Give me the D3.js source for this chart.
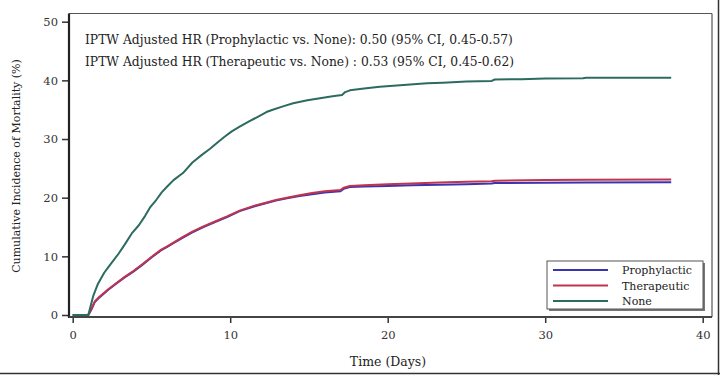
<!DOCTYPE html>
<html><head><meta charset="utf-8">
<script src="https://cdn.jsdelivr.net/npm/d3@7"></script>
<style>body{margin:0;background:#fff;} svg{display:block;}</style>
</head><body>
<script>
const xTicks = [0, 10, 20, 30, 40];
const yTicks = [0, 10, 20, 30, 40, 50];
const seriesNames = ["Prophylactic", "Therapeutic", "None"];
const seriesColors = ["#3b34b2", "#c0344c", "#2c6b5f"];
const annotations = [
  "IPTW Adjusted HR (Prophylactic vs. None): 0.50 (95% CI, 0.45-0.57)",
  "IPTW Adjusted HR (Therapeutic vs. None) : 0.53 (95% CI, 0.45-0.62)"
];
// [day, cumulative incidence %]
const noneData = [[0,0],[0.99,0],[1.3,3.2],[1.6,5.3],[2.0,7.2],[2.3,8.3],[2.9,10.4],[3.3,12.0],[3.75,13.9],[4.2,15.3],[4.6,16.9],[4.9,18.3],[5.3,19.6],[5.65,20.9],[6.0,21.9],[6.4,23.0],[7.0,24.2],[7.6,26.0],[8.2,27.3],[8.7,28.3],[9.1,29.2],[9.6,30.3],[10.1,31.3],[10.6,32.1],[11.2,33.0],[11.9,34.0],[12.3,34.6],[12.7,35.0],[13.4,35.6],[14.0,36.1],[14.9,36.6],[15.8,37.0],[16.5,37.3],[17.1,37.5],[17.3,38.0],[17.6,38.3],[18.5,38.6],[19.5,38.9],[21,39.2],[22.5,39.5],[23.5,39.6],[25,39.8],[26.6,39.9],[26.8,40.15],[28.5,40.2],[30,40.3],[32.4,40.35],[32.6,40.45],[38,40.45]];
const prophData = [[0,0],[0.99,0],[1.2,1.0],[1.4,2.2],[1.7,3.0],[2.26,4.3],[2.8,5.4],[3.3,6.4],[3.85,7.4],[4.4,8.5],[5.0,9.8],[5.6,11.0],[6.0,11.6],[6.5,12.4],[7.0,13.2],[7.6,14.1],[8.3,15.0],[9.0,15.8],[9.8,16.7],[10.6,17.7],[11.5,18.5],[12.2,19.0],[12.9,19.5],[13.6,19.9],[14.4,20.3],[15.2,20.6],[16.0,20.9],[17.0,21.1],[17.2,21.5],[17.6,21.8],[18.5,21.9],[20,22.0],[21.5,22.1],[23.3,22.2],[25,22.3],[26.6,22.4],[26.8,22.5],[30,22.55],[32.6,22.6],[38,22.65]];
const therData = [[0,0],[0.99,0],[1.2,1.1],[1.4,2.3],[1.7,3.1],[2.26,4.4],[2.8,5.5],[3.3,6.5],[3.85,7.5],[4.4,8.6],[5.0,9.9],[5.6,11.1],[6.0,11.7],[6.5,12.5],[7.0,13.3],[7.6,14.2],[8.3,15.1],[9.0,15.9],[9.8,16.8],[10.6,17.8],[11.5,18.6],[12.2,19.1],[12.9,19.6],[13.6,20.0],[14.4,20.4],[15.2,20.8],[16.0,21.1],[17.0,21.3],[17.2,21.7],[17.6,22.0],[18.5,22.1],[20,22.3],[21.5,22.4],[23.3,22.6],[25,22.7],[26.6,22.8],[26.8,22.9],[30,23.0],[32.6,23.05],[38,23.1]];
const seriesData = [prophData, therData, noneData];

const W = 720, H = 375;
const svg = d3.select("body").append("svg").attr("width", W).attr("height", H);
const x = d3.scaleLinear().domain([0, 40]).range([72.7, 702.7]);
const y = d3.scaleLinear().domain([0, 50]).range([315, 21.7]);
const FL = 69, FR = 712, FT = 13.5, FB = 317;
const font = "DejaVu Serif";

// frame top/right
svg.append("line").attr("x1", FL).attr("x2", FR).attr("y1", FT).attr("y2", FT).attr("stroke", "#555").attr("stroke-width", 1.2);
svg.append("line").attr("x1", FR).attr("x2", FR).attr("y1", FT).attr("y2", FB).attr("stroke", "#555").attr("stroke-width", 1.2);
// image border right/bottom
svg.append("line").attr("x1", 718.5).attr("x2", 718.5).attr("y1", 0).attr("y2", H).attr("stroke", "#333").attr("stroke-width", 1.5);
svg.append("line").attr("x1", 0).attr("x2", W).attr("y1", 373.5).attr("y2", 373.5).attr("stroke", "#333").attr("stroke-width", 1.5);

// axes
const yAxis = d3.axisLeft(y).tickValues(yTicks).tickSize(7).tickPadding(4).tickSizeOuter(0);
const gy = svg.append("g").attr("transform", `translate(${FL},0)`).call(yAxis);
gy.select(".domain").remove();
gy.append("line").attr("x1", 0).attr("x2", 0).attr("y1", FT).attr("y2", FB + 1).attr("stroke", "#222").attr("stroke-width", 2.2);
gy.selectAll(".tick line").attr("stroke", "#333").attr("stroke-width", 1.5);
gy.selectAll(".tick text").attr("font-family", font).attr("font-size", 11.5).attr("fill", "#333");

const xAxis = d3.axisBottom(x).tickValues(xTicks).tickSize(6).tickPadding(8).tickSizeOuter(0);
const gx = svg.append("g").attr("transform", `translate(0,${FB})`).call(xAxis);
gx.select(".domain").remove();
gx.append("line").attr("x1", FL).attr("x2", FR).attr("y1", 0).attr("y2", 0).attr("stroke", "#444").attr("stroke-width", 2.2);
gx.selectAll(".tick line").attr("stroke", "#333").attr("stroke-width", 1.5);
gx.selectAll(".tick text").attr("font-family", font).attr("font-size", 11.5).attr("fill", "#333");

// axis titles
svg.append("text").attr("x", 388).attr("y", 366).attr("text-anchor", "middle")
  .attr("font-family", font).attr("font-size", 12.5).attr("fill", "#222").text("Time (Days)");
svg.append("text").attr("transform", "translate(20,166) rotate(-90)").attr("text-anchor", "middle")
  .attr("font-family", font).attr("font-size", 11).attr("fill", "#222").text("Cumulative Incidence of Mortality (%)");

// annotations
annotations.forEach((t, i) => {
  svg.append("text").attr("x", 85).attr("y", 44 + i * 22).attr("font-family", font)
    .attr("font-size", 12.3).attr("fill", "#222").text(t);
});

// curves
const line = d3.line().x(d => x(d[0])).y(d => y(d[1])).curve(d3.curveLinear);
seriesData.forEach((data, i) => {
  svg.append("path").datum(data).attr("d", line).attr("fill", "none")
    .attr("stroke", seriesColors[i]).attr("stroke-width", 2).attr("stroke-linejoin", "round");
});

// legend
const lg = svg.append("g");
lg.append("rect").attr("x", 549).attr("y", 263).attr("width", 156).attr("height", 48).attr("fill", "#777");
lg.append("rect").attr("x", 547).attr("y", 261).attr("width", 156).attr("height", 48).attr("fill", "#fff").attr("stroke", "#555").attr("stroke-width", 1);
seriesNames.forEach((n, i) => {
  const yy = 270 + i * 15.5;
  lg.append("line").attr("x1", 553).attr("x2", 608).attr("y1", yy).attr("y2", yy)
    .attr("stroke", seriesColors[i]).attr("stroke-width", 2);
  lg.append("text").attr("x", 622).attr("y", yy + 4).attr("font-family", font)
    .attr("font-size", 11).attr("fill", "#222").text(n);
});
</script>
</body></html>
